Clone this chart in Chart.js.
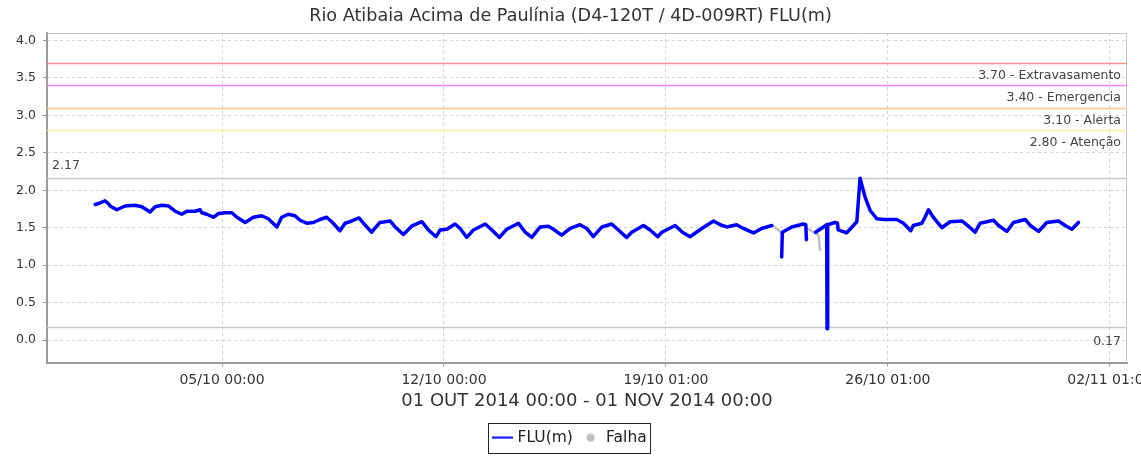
<!DOCTYPE html>
<html><head><meta charset="utf-8">
<script src="https://cdn.jsdelivr.net/npm/chart.js@4.4.1/dist/chart.umd.min.js"></script>
<style>html,body{margin:0;padding:0;background:#fff}</style>
</head><body>
<canvas id="c" width="1141" height="459" style="display:block;width:1141px;height:459px"></canvas>
<script>
const chartTitle = 'Rio Atibaia Acima de Paulínia (D4-120T / 4D-009RT) FLU(m)';
const xAxisTitle = '01 OUT 2014 00:00 - 01 NOV 2014 00:00';
// x positions are days since 01 OUT 2014 00:00
const xTickDays = [4, 11, 18, 25, 32];
const xTickLabels = ['05/10 00:00', '12/10 00:00', '19/10 01:00', '26/10 01:00', '02/11 01:00'];
const yTicks = [0, 0.5, 1, 1.5, 2, 2.5, 3, 3.5, 4];

const fluDays = [
  0.00,0.15,0.31,0.42,0.47,0.68,0.94,1.26,1.47,1.73,1.89,2.10,2.31,2.52,2.73,2.89,3.15,3.31,3.36,3.52,
  3.73,3.89,4.10,4.31,4.47,4.73,4.99,5.25,5.46,5.73,5.88,6.09,6.30,6.46,6.67,6.88,7.09,7.30,7.46,7.72,
  7.88,8.09,8.32,8.46,8.72,8.98,9.30,9.46,9.72,9.98,10.30,10.51,10.75,10.88,11.09,11.35,11.51,11.72,11.93,12.30,
  12.51,12.75,12.98,13.35,13.56,13.77,14.03,14.29,14.45,14.71,14.98,15.29,15.50,15.71,15.98,16.29,16.50,16.76,16.92,17.29,
  17.50,17.74,17.87,18.29,18.52,18.76,19.13,19.50,19.71,19.92,20.23,20.44,20.76,21.02,21.34,
  21.50,
  21.65,21.67,21.97,22.33,22.41,22.43,
  22.60,
  22.72,23.00,23.07,23.08,23.10,23.33,23.41,23.43,23.70,23.91,24.02,24.12,24.28,24.44,24.65,24.86,25.28,25.49,25.72,25.80,
  26.07,26.17,26.28,26.43,26.70,26.96,27.33,27.54,27.75,27.91,28.33,28.49,28.75,28.96,29.33,29.49,29.75,30.01,30.38,30.59,
  30.80,31.01
];
const fluValues = [
  1.81,1.83,1.86,1.82,1.79,1.74,1.79,1.80,1.78,1.71,1.78,1.80,1.79,1.72,1.68,1.72,1.72,1.74,1.70,1.68,
  1.64,1.69,1.70,1.70,1.64,1.57,1.64,1.66,1.62,1.51,1.64,1.68,1.66,1.60,1.56,1.57,1.61,1.64,1.58,1.46,
  1.56,1.59,1.63,1.56,1.44,1.57,1.59,1.51,1.41,1.52,1.58,1.47,1.38,1.47,1.48,1.55,1.49,1.37,1.47,1.55,
  1.47,1.37,1.48,1.56,1.44,1.37,1.51,1.52,1.48,1.40,1.49,1.54,1.49,1.38,1.51,1.55,1.47,1.37,1.44,1.53,
  1.47,1.38,1.44,1.53,1.44,1.38,1.49,1.59,1.54,1.51,1.54,1.49,1.43,1.49,1.53,
  null,
  1.11,1.44,1.51,1.55,1.54,1.34,
  null,
  1.44,1.52,1.54,0.15,1.54,1.57,1.56,1.47,1.43,1.53,1.58,2.16,1.91,1.73,1.62,1.61,1.61,1.56,1.46,1.53,
  1.56,1.64,1.74,1.64,1.50,1.58,1.59,1.52,1.44,1.56,1.60,1.53,1.45,1.57,1.61,1.53,1.45,1.57,1.59,1.53,
  1.48,1.57
];
const falhaDays = [21.34, 21.49, 21.65, 22.00, 22.43, 22.62, 22.81, 22.86];
const falhaValues = [1.53, 1.49, 1.43, null, 1.50, 1.45, 1.40, 1.20];

const thresholdValues = [3.70, 3.40, 3.10, 2.80];
const thresholdLabels = ['3.70 - Extravasamento', '3.40 - Emergencia', '3.10 - Alerta', '2.80 - Atenção'];
const thresholdColors = ['#ff9090', '#ff80ff', '#ffc48e', '#ffee96'];
const rangeValues = [2.17, 0.17];
const rangeLabels = ['2.17', '0.17'];

const FONT = 'DejaVu Sans';
const fluColor = '#0000ff';
const falhaColor = '#c0c0c0';

function lineImg(color) {
  const c = document.createElement('canvas'); c.width = 21; c.height = 3;
  const g = c.getContext('2d'); g.fillStyle = color; g.fillRect(0, 0.5, 21, 2); return c;
}
function dotImg(color) {
  const c = document.createElement('canvas'); c.width = 9; c.height = 9;
  const g = c.getContext('2d'); g.fillStyle = color; g.beginPath(); g.arc(4.5, 4.5, 4, 0, Math.PI * 2); g.fill(); return c;
}

const refLines = {
  id: 'refLines',
  beforeDatasetsDraw(chart) {
    const {ctx, chartArea: a, scales: {y}} = chart;
    ctx.save();
    ctx.strokeStyle = '#c4c4c4'; ctx.lineWidth = 1;
    ctx.beginPath();
    ctx.moveTo(a.left, a.top + 0.5); ctx.lineTo(a.right - 0.5, a.top + 0.5); ctx.lineTo(a.right - 0.5, a.bottom);
    ctx.stroke();
    thresholdValues.forEach((v, i) => {
      const py = Math.round(y.getPixelForValue(v)) + 0.5;
      ctx.strokeStyle = thresholdColors[i]; ctx.lineWidth = 1.5;
      ctx.beginPath(); ctx.moveTo(a.left, py); ctx.lineTo(a.right, py); ctx.stroke();
    });
    rangeValues.forEach(v => {
      const py = Math.round(y.getPixelForValue(v)) + 0.5;
      ctx.strokeStyle = '#c8c8c8'; ctx.lineWidth = 1.5;
      ctx.beginPath(); ctx.moveTo(a.left, py); ctx.lineTo(a.right, py); ctx.stroke();
    });
    ctx.restore();
  },
  afterDatasetsDraw(chart) {
    const {ctx, chartArea: a, scales: {y}} = chart;
    ctx.save();
    ctx.font = '12.5px "' + FONT + '"';
    ctx.fillStyle = '#444';
    ctx.textBaseline = 'middle';
    ctx.textAlign = 'right';
    thresholdValues.forEach((v, i) => {
      ctx.fillText(thresholdLabels[i], a.right - 6, y.getPixelForValue(v) + 12.5);
    });
    ctx.textAlign = 'left';
    ctx.fillText(rangeLabels[0], a.left + 5, y.getPixelForValue(rangeValues[0]) - 12);
    ctx.textAlign = 'right';
    ctx.fillText(rangeLabels[1], a.right - 6, y.getPixelForValue(rangeValues[1]) + 14);
    ctx.restore();
  },
  afterDraw(chart) {
    const lg = chart.legend;
    if (!lg || !lg.legendHitBoxes || !lg.legendHitBoxes.length) return;
    const hb = lg.legendHitBoxes;
    let l = Infinity, r = -Infinity, t = Infinity, b = -Infinity;
    hb.forEach(h => { l = Math.min(l, h.left); r = Math.max(r, h.left + h.width); t = Math.min(t, h.top); b = Math.max(b, h.top + h.height); });
    const ctx = chart.ctx;
    ctx.save();
    ctx.strokeStyle = '#222'; ctx.lineWidth = 1;
    ctx.strokeRect(Math.round(l - 6) + 0.5, Math.round(t - 7) + 0.5, Math.round(r - l + 10), Math.round(b - t + 14));
    ctx.restore();
  }
};

new Chart(document.getElementById('c'), {
  type: 'line',
  data: {
    datasets: [
      {
        label: 'FLU(m)',
        data: fluDays.map((d, i) => ({x: d, y: fluValues[i]})),
        borderColor: fluColor, backgroundColor: fluColor,
        borderWidth: 3.5, pointRadius: 0, tension: 0, spanGaps: false,
        borderJoinStyle: 'round', borderCapStyle: 'round'
      },
      {
        label: 'Falha',
        data: falhaDays.map((d, i) => ({x: d, y: falhaValues[i]})),
        borderColor: falhaColor, backgroundColor: falhaColor,
        borderWidth: 2.5, pointRadius: 0, tension: 0, spanGaps: false,
        borderJoinStyle: 'round', borderCapStyle: 'round'
      }
    ]
  },
  options: {
    responsive: false,
    animation: false,
    devicePixelRatio: 1,
    layout: {padding: {left: 0, right: 0, top: 0, bottom: 3.5}},
    scales: {
      x: {
        type: 'linear',
        min: -1.52, max: 32.54,
        afterBuildTicks(s) { s.ticks = xTickDays.map(v => ({value: v})); },
        afterFit(s) { s.height = 57.5; s.paddingLeft = 0; s.paddingRight = 0; },
        ticks: {
          autoSkip: false, maxRotation: 0, padding: 5.5,
          font: {family: FONT, size: 14}, color: '#333',
          callback(v) { const i = xTickDays.indexOf(v); return i >= 0 ? xTickLabels[i] : ''; }
        },
        grid: {color: '#d4d4d4', lineWidth: 1, tickLength: 4, tickColor: '#999', tickWidth: 1},
        border: {color: '#9a9a9a', width: 2, dash: [3, 3]},
        title: {display: true, text: xAxisTitle, font: {family: FONT, size: 18}, color: '#333', padding: {top: 2, bottom: 7.7}}
      },
      y: {
        type: 'linear',
        min: -0.3, max: 4.1,
        afterBuildTicks(s) { s.ticks = yTicks.map(v => ({value: v})); },
        afterFit(s) { s.width = 47; s.paddingTop = 0; s.paddingBottom = 0; },
        ticks: {
          padding: 7, font: {family: FONT, size: 12.5}, color: '#333',
          callback(v) { return Number(v).toFixed(1); }
        },
        grid: {color: '#d4d4d4', lineWidth: 1, tickLength: 4, tickColor: '#999', tickWidth: 1},
        border: {color: '#9a9a9a', width: 2, dash: [3, 3]}
      },
      yRight: {
        type: 'linear', position: 'right', display: true,
        min: -0.3, max: 4.1,
        afterFit(s) { s.width = 14; s.paddingTop = 0; s.paddingBottom = 0; },
        ticks: {display: false},
        grid: {display: false, drawOnChartArea: false, drawTicks: false},
        border: {display: false}
      }
    },
    plugins: {
      title: {display: true, text: chartTitle, font: {family: FONT, size: 17.6, weight: 'normal'}, color: '#333', padding: {top: 5.5, bottom: 6.4}},
      legend: {
        display: true, position: 'bottom',
        labels: {
          usePointStyle: true, padding: 10,
          font: {family: FONT, size: 15.5}, color: '#222',
          generateLabels() {
            return [
              {text: 'FLU(m)', pointStyle: lineImg(fluColor), fillStyle: fluColor, strokeStyle: fluColor, lineWidth: 0, hidden: false, datasetIndex: 0, fontColor: '#222'},
              {text: 'Falha', pointStyle: dotImg(falhaColor), fillStyle: falhaColor, strokeStyle: falhaColor, lineWidth: 0, hidden: false, datasetIndex: 1, fontColor: '#222'}
            ];
          }
        }
      },
      tooltip: {enabled: false}
    }
  },
  plugins: [refLines]
});
</script>
</body></html>
